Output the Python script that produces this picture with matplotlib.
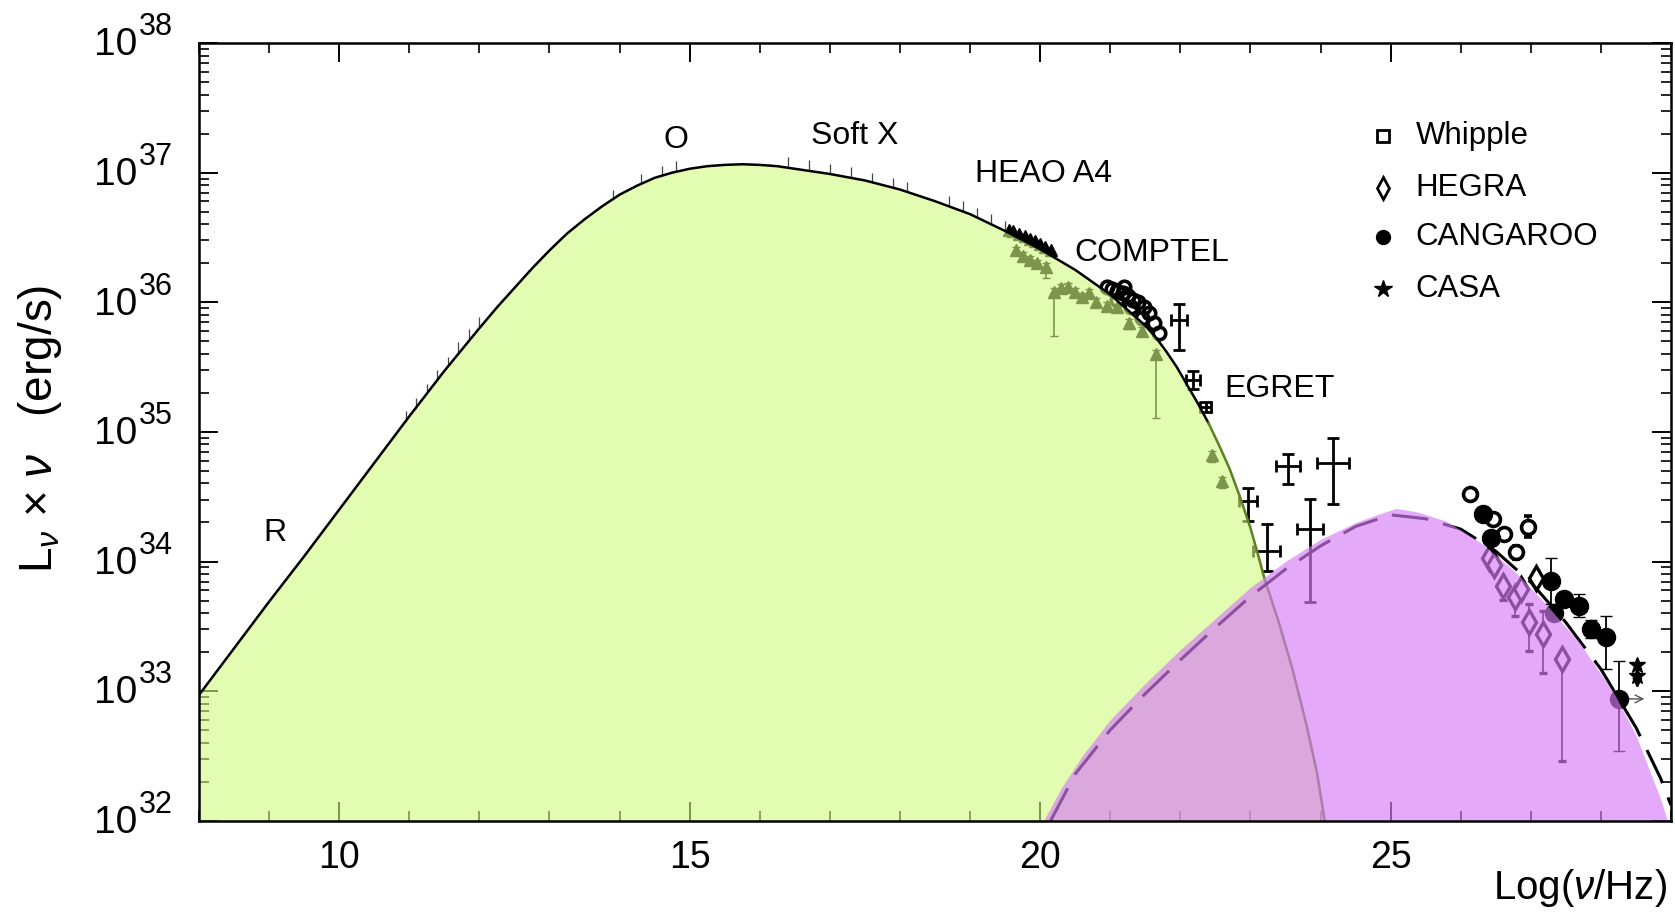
#!/usr/bin/env python3
"""Crab-like SED: synchrotron + inverse Compton bumps with multiwavelength data."""

import numpy as np
import matplotlib

matplotlib.use("Agg")
import matplotlib.pyplot as plt
from matplotlib.transforms import offset_copy
from matplotlib.ticker import FixedLocator, LogLocator, MultipleLocator, NullFormatter

# synchrotron model (log10 nu, log10 L nu)
sync_x = [8.0, 8.5, 9.0, 9.5, 10.0, 10.5, 11.0, 11.5, 12.0, 12.25, 12.5, 12.75, 13.0, 13.25,
          13.5, 13.75, 14.0, 14.25, 14.5, 14.75, 15.0, 15.25, 15.5, 15.75, 16.0, 16.25, 16.5,
          17.0, 17.5, 18.0, 18.5, 19.0, 19.5, 20.0, 20.5, 21.0, 21.5, 21.65, 21.8, 21.95, 22.1,
          22.25, 22.4, 22.55, 22.7, 22.85, 23.0, 23.1, 23.2, 23.4, 23.6, 23.8, 23.95, 24.06]
sync_y = [32.97, 33.33, 33.69, 34.04, 34.40, 34.76, 35.12, 35.47, 35.80, 35.96, 36.11, 36.26,
          36.40, 36.53, 36.64, 36.74, 36.83, 36.90, 36.96, 37.00, 37.03, 37.05, 37.06, 37.065,
          37.06, 37.05, 37.03, 36.99, 36.94, 36.87, 36.78, 36.68, 36.55, 36.41, 36.25, 36.06,
          35.82, 35.73, 35.62, 35.50, 35.36, 35.22, 35.07, 34.90, 34.72, 34.50, 34.26, 34.07,
          33.87, 33.54, 33.17, 32.74, 32.37, 32.0]

# inverse Compton band (filled) and model (dashed)
ic_x = [20.05, 20.3, 20.6, 21.0, 21.5, 22.0, 22.5, 23.0, 23.5, 24.0, 24.5, 24.8, 25.08, 25.4,
        25.8, 26.3, 26.8, 27.2, 27.7, 28.2, 28.5, 28.7, 28.85, 28.95]
ic_y = [32.0, 32.25, 32.5, 32.78, 33.06, 33.32, 33.56, 33.80, 34.0, 34.17, 34.30, 34.36, 34.41,
        34.38, 34.31, 34.14, 33.91, 33.68, 33.37, 32.97, 32.66, 32.38, 32.17, 32.0]
icm_x = [20.15, 20.5, 21.0, 21.5, 22.0, 22.5, 23.0, 23.5, 24.0, 24.5, 25.0, 25.5, 26.0, 26.5,
         27.0, 27.5, 28.0, 28.5, 28.85, 29.0]
icm_y = [32.0, 32.36, 32.70, 32.98, 33.24, 33.49, 33.73, 33.94, 34.12, 34.27, 34.36, 34.33,
         34.25, 34.08, 33.84, 33.53, 33.17, 32.72, 32.33, 32.12]

# radio / optical / soft X small error ticks along the curve
tick_x = [10.95, 11.1, 11.25, 11.4, 11.55, 11.7, 11.85, 12.0, 13.9, 14.3, 14.6, 14.8, 16.4, 16.7,
          17.0, 17.3, 17.6, 17.9, 18.1, 18.7, 18.9, 19.1, 19.3, 19.5]
tick_y = [35.12, 35.22, 35.33, 35.44, 35.54, 35.65, 35.75, 35.85, 36.83, 36.95, 37.01, 37.05,
          37.08, 37.06, 37.03, 37.00, 36.96, 36.92, 36.89, 36.78, 36.74, 36.69, 36.64, 36.59]

heao_x = [19.55, 19.62, 19.7, 19.78, 19.85, 19.92, 20.0, 20.07, 20.15]
heao_y = [36.56, 36.55, 36.53, 36.51, 36.49, 36.47, 36.45, 36.43, 36.40]

tri_x = [19.65, 19.75, 19.85, 19.95, 20.08, 20.2, 20.3, 20.4, 20.5, 20.6, 20.7, 20.8, 20.95,
         21.1, 21.27, 21.45, 21.65, 22.45, 22.6]
tri_y = [36.40, 36.36, 36.33, 36.30, 36.27, 36.08, 36.11, 36.12, 36.08, 36.04, 36.07, 36.00,
         35.97, 35.96, 35.84, 35.78, 35.60, 34.82, 34.62]
tri_dn = [0.03, 0.03, 0.03, 0.03, 0.08, 0.34, 0.03, 0.03, 0.03, 0.03, 0.03, 0.03, 0.03, 0.03,
          0.05, 0.03, 0.49, 0.05, 0.05]

osse_x = [20.95, 21.02, 21.1, 21.18, 21.25, 21.32, 21.4, 21.48, 21.55, 21.62, 21.7, 21.1, 21.3,
          21.45, 21.2]
osse_y = [36.12, 36.10, 36.09, 36.07, 36.05, 36.02, 36.00, 35.96, 35.92, 35.84, 35.76, 36.02,
          35.96, 35.88, 36.12]

egret_x = [21.98, 22.18, 22.36, 22.97, 23.23, 23.54, 23.85, 24.18]
egret_y = [35.86, 35.40, 35.19, 34.47, 34.08, 34.74, 34.25, 34.76]
egret_up = [0.13, 0.07, 0.04, 0.10, 0.21, 0.09, 0.23, 0.19]
egret_dn = [0.23, 0.07, 0.04, 0.16, 0.15, 0.14, 0.56, 0.32]
egret_xe = [0.12, 0.10, 0.08, 0.13, 0.19, 0.17, 0.18, 0.23]

whip_x = [26.13, 26.46, 26.62, 26.79, 26.96]
whip_y = [34.52, 34.33, 34.21, 34.07, 34.27]
whip_e = [0.03, 0.03, 0.03, 0.05, 0.08]

hegra_x = [26.41, 26.48, 26.60, 26.77, 26.86, 26.98, 27.07, 27.17, 27.44]
hegra_y = [34.03, 33.97, 33.81, 33.73, 33.79, 33.53, 33.87, 33.44, 33.25]
hegra_up = [0.04, 0.04, 0.05, 0.05, 0.05, 0.14, 0.05, 0.18, 0.05]
hegra_dn = [0.04, 0.04, 0.11, 0.15, 0.05, 0.22, 0.05, 0.30, 0.79]

cang_x = [26.32, 26.43, 27.29, 27.33, 27.48, 27.69, 27.86, 28.07, 28.26]
cang_y = [34.37, 34.18, 33.85, 33.60, 33.71, 33.66, 33.48, 33.42, 32.94]
cang_up = [0.04, 0.04, 0.18, 0.04, 0.05, 0.09, 0.07, 0.16, 0.29]
cang_dn = [0.04, 0.04, 0.18, 0.04, 0.05, 0.09, 0.07, 0.25, 0.40]

casa_x = [28.52, 28.52]
casa_y = [33.20, 33.12]

band_labels = ["R", "O", "Soft X", "HEAO A4", "COMPTEL", "EGRET"]
band_x = [9.08, 14.81, 17.35, 20.05, 21.6, 23.42]
band_y = [34.22, 37.25, 37.28, 36.99, 36.38, 35.33]

legend_names = ["Whipple", "HEGRA", "CANGAROO", "CASA"]
legend_y = [37.28, 36.88, 36.50, 36.10]

y_decades = [32, 33, 34, 35, 36, 37, 38]


def p10(v):
    return 10.0 ** np.asarray(v, dtype=float)


def logerr(y, dn, up):
    y = np.asarray(y, dtype=float)
    return [p10(y) - p10(y - np.asarray(dn)), p10(y + np.asarray(up)) - p10(y)]


def main() -> int:
    plt.rcParams["font.family"] = ["Liberation Sans", "DejaVu Sans"]
    plt.rcParams["mathtext.fontset"] = "custom"
    plt.rcParams["mathtext.rm"] = "Liberation Sans"
    plt.rcParams["mathtext.it"] = "Liberation Sans:italic"

    fig = plt.figure(figsize=(16.75, 9.16), dpi=100)
    ax = fig.add_axes([0.1188, 0.104, 0.8788, 0.849])
    ax.set_yscale("log")
    ax.set_xlim(8, 29)
    ax.set_ylim(1e32, 1e38)

    green = (208 / 255, 250 / 255, 125 / 255)
    purple = (215 / 255, 123 / 255, 246 / 255)

    # data (under the translucent fills)
    ax.errorbar(tick_x, p10(tick_y), yerr=logerr(tick_y, [0.04] * len(tick_y), [0.04] * len(tick_y)),
                fmt="none", ecolor="#444444", elinewidth=0.9, zorder=2)
    ax.plot(heao_x, p10(heao_y), "^", color="black", ms=8, zorder=2)
    ax.errorbar(tri_x, p10(tri_y), yerr=logerr(tri_y, tri_dn, [0.03] * len(tri_y)), fmt="^",
                color="black", ms=9, elinewidth=1.2, capsize=3, zorder=2)
    ax.plot(osse_x, p10(osse_y), "o", mfc="none", mec="black", mew=2.6, ms=9, zorder=2)
    ax.errorbar(egret_x, p10(egret_y), yerr=logerr(egret_y, egret_dn, egret_up), xerr=egret_xe,
                fmt="none", ecolor="black", elinewidth=2, capsize=4, capthick=2, zorder=2)
    ax.errorbar(whip_x, p10(whip_y), yerr=logerr(whip_y, whip_e, whip_e), fmt="o", mfc="white",
                mec="black", mew=2.6, ms=10, ecolor="black", elinewidth=1.2, capsize=3, zorder=2)
    ax.errorbar(hegra_x, p10(hegra_y), yerr=logerr(hegra_y, hegra_dn, hegra_up), fmt="d", mfc="white",
                mec="black", mew=2.4, ms=12, ecolor="black", elinewidth=1.2, capsize=3, zorder=2)
    ax.errorbar(cang_x, p10(cang_y), yerr=logerr(cang_y, cang_dn, cang_up), fmt="o", color="black",
                ms=13, elinewidth=1.3, capsize=4, zorder=2)
    ax.plot(casa_x, p10(casa_y), "*", color="black", ms=12, zorder=2)
    ax.annotate("", xy=(casa_x[1], p10(33.0)), xytext=(casa_x[1], p10(casa_y[1])),
                arrowprops=dict(arrowstyle="-|>", color="black", lw=1.5, mutation_scale=14), zorder=2)
    ax.annotate("", xy=(28.66, p10(cang_y[-1])), xytext=(28.3, p10(cang_y[-1])),
                arrowprops=dict(arrowstyle="->", color="#555555", lw=1.0, mutation_scale=14), zorder=2)

    # synchrotron bump
    ax.fill_between(sync_x, 1e32, p10(sync_y), color=green, alpha=0.6, lw=0, zorder=3)
    k = sync_x.index(22.4) + 1
    ax.plot(sync_x[:k], p10(sync_y[:k]), color="black", lw=1.8, zorder=4, solid_joinstyle="round")
    ax.plot(sync_x[k - 1:], p10(sync_y[k - 1:]), color="#5f7f25", lw=1.8, zorder=4)

    # inverse Compton bump
    ax.plot(icm_x, p10(icm_y), color="black", lw=2.2, dashes=(12, 5), zorder=4.5)
    ax.fill_between(ic_x, 1e32, p10(ic_y), color=purple, alpha=0.65, lw=0, zorder=5)

    for name, x, y in zip(band_labels, band_x, band_y):
        ax.text(x, p10(y), name, fontsize=23, ha="center", va="center", zorder=10)

    # legend drawn in place
    styles = [dict(marker="s", mfc="white", mec="black", mew=2, ms=8),
              dict(marker="d", mfc="white", mec="black", mew=2, ms=11),
              dict(marker="o", color="black", ms=10),
              dict(marker="*", color="black", ms=13)]
    for name, y, st in zip(legend_names, legend_y, styles):
        ax.plot([24.89], [p10(y)], ls="none", zorder=10, **st)
        ax.text(25.36, p10(y), name, fontsize=22.5, ha="left", va="center", zorder=10)

    ax.xaxis.set_major_locator(FixedLocator([10, 15, 20, 25]))
    ax.xaxis.set_minor_locator(MultipleLocator(1))
    ax.yaxis.set_major_locator(LogLocator(base=10, numticks=12))
    ax.yaxis.set_minor_locator(LogLocator(base=10, subs=np.arange(2, 10), numticks=12))
    ax.yaxis.set_minor_formatter(NullFormatter())
    ax.yaxis.set_major_formatter(NullFormatter())
    ax.tick_params(which="both", direction="in", top=True, right=True, labelsize=27)
    ax.tick_params(which="major", length=14, width=1.4)
    ax.tick_params(which="minor", length=7, width=1.2)
    ax.tick_params(axis="x", pad=14)
    for sp in ax.spines.values():
        sp.set_linewidth(1.8)
        sp.set_zorder(11)

    # y tick labels: "10" with a large exponent, as in the original
    ytrans = ax.get_yaxis_transform()
    base_tr = offset_copy(ytrans, fig=fig, x=-44.5, y=-8.8, units="points")
    exp_tr = offset_copy(ytrans, fig=fig, x=-43.0, y=5.6, units="points")
    for d in y_decades:
        ax.text(0, p10(d), "10", transform=base_tr, fontsize=28, ha="right", va="baseline", clip_on=False)
        ax.text(0, p10(d), str(d), transform=exp_tr, fontsize=22, ha="left", va="baseline", clip_on=False)

    fig.text(0.0239, 0.532, r"L$_\nu$ $\times$ $\nu$   (erg/s)", rotation=90, fontsize=33,
             ha="center", va="center")
    fig.text(0.995, 0.031, r"Log($\nu$/Hz)", fontsize=29, ha="right", va="center")

    fig.savefig("out.png", dpi=100)
    return 0


if __name__ == "__main__":
    raise SystemExit(main())
